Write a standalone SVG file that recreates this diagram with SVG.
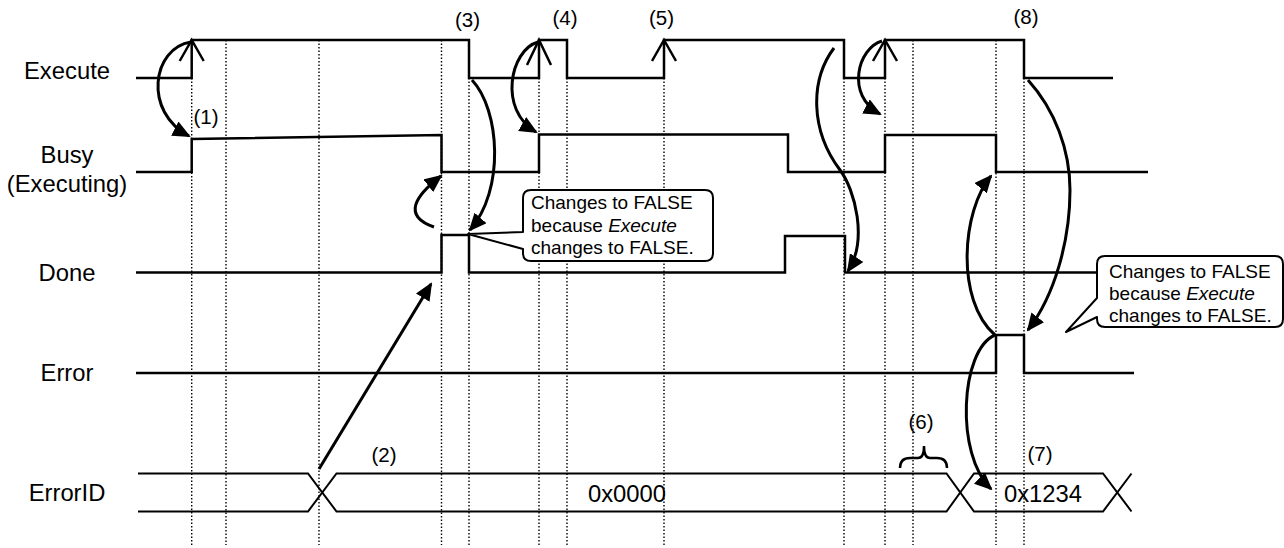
<svg xmlns="http://www.w3.org/2000/svg" width="1284" height="548" viewBox="0 0 1284 548">
<style>
  .lbl{font-family:"Liberation Sans",Arial,Helvetica,sans-serif;font-size:23.8px;fill:#000}
  .num{font-family:"Liberation Sans",Arial,Helvetica,sans-serif;font-size:20.5px;fill:#000;text-anchor:middle}
  .co{font-family:"Liberation Sans",Arial,Helvetica,sans-serif;font-size:19px;fill:#000}
  .sig{fill:none;stroke:#000;stroke-width:2.5;stroke-linejoin:miter;stroke-linecap:butt}
  .bus{fill:none;stroke:#000;stroke-width:2}
  .dot{fill:none;stroke:#000;stroke-width:1.4;stroke-dasharray:1.5 2}
  .arr{fill:none;stroke:#000;stroke-width:3;marker-end:url(#ah)}
  .chev{fill:none;stroke:#000;stroke-width:2.5}
  .callout{fill:#fff;stroke:#000;stroke-width:2;stroke-linejoin:round}
</style>
<defs>
  <marker id="ah" viewBox="0 0 18 16" refX="16" refY="8" markerWidth="18" markerHeight="16" markerUnits="userSpaceOnUse" orient="auto">
    <path d="M0,0 L18,8 L0,16 Z" fill="#000"/>
  </marker>
</defs>
<rect width="1284" height="548" fill="#fff"/>

<g id="guides">
  <path class="dot" d="M191.7 78V545M226 40V545M319 40V545M441.5 40V545M469 78V545M539 78V545M567 78V545M664 78V545M844 78V545M885 78V545M913 40V545M996 40V545M1024 78V545"/>
</g>

<g id="labels">
  <text class="lbl" x="67" y="79" text-anchor="middle">Execute</text>
  <text class="lbl" x="67" y="163" text-anchor="middle">Busy</text>
  <text class="lbl" x="67" y="192" text-anchor="middle">(Executing)</text>
  <text class="lbl" x="67" y="281" text-anchor="middle">Done</text>
  <text class="lbl" x="67" y="381" text-anchor="middle">Error</text>
  <text class="lbl" x="67" y="501" text-anchor="middle">ErrorID</text>
</g>

<g id="sig-execute">
  <path class="sig" d="M136 78H191.7V40H469V78H539V40H567V78H664V40H844V78H885V40H1024V78H1113"/>
  <polyline class="chev" points="179.7,61 191.7,40 203.7,61"/>
  <polyline class="chev" points="527,65 539,40 551,65"/>
  <polyline class="chev" points="652,61 664,40 676,61"/>
  <polyline class="chev" points="873,61 885,40 897,61"/>
</g>

<g id="sig-busy">
  <path class="sig" d="M136 172H191.7V139L441.5 135V172H539V134.5H788V172H885V135H996V172H1148"/>
</g>

<g id="sig-done">
  <path class="sig" d="M136 272.5H441.5V235H469V272.5H785V236H845V272.5H1097"/>
</g>

<g id="sig-error">
  <path class="sig" d="M136 373H996V335H1024V373H1134"/>
</g>

<g id="sig-errorid">
  <path class="bus" d="M138 473.5H308L336.5 511.5H946.5L974 473.5H1103L1131.5 511.5"/>
  <path class="bus" d="M138 511.5H308L336.5 473.5H946.5L974 511.5H1103L1131.5 473.5"/>
  <text class="lbl" x="627" y="502" text-anchor="middle">0x0000</text>
  <text class="lbl" x="1043" y="501.5" text-anchor="middle">0x1234</text>
</g>

<g id="numbers">
  <text class="num" x="206" y="124">(1)</text>
  <text class="num" x="384" y="462">(2)</text>
  <text class="num" x="467.5" y="27">(3)</text>
  <text class="num" x="565" y="25">(4)</text>
  <text class="num" x="661.5" y="25">(5)</text>
  <text class="num" x="921" y="429">(6)</text>
  <text class="num" x="1040" y="461">(7)</text>
  <text class="num" x="1026" y="24">(8)</text>
  <path fill="none" stroke="#000" stroke-width="2.5" d="M900 468Q900 458 910 458H918Q924 458 924 446Q924 458 930 458H937Q947 458 947 468"/>
</g>

<g id="connectors">
  <path class="arr" d="M191 42C152 48 143 112 189 136"/>
  <path class="arr" d="M538 42C510 50 498 110 536 132"/>
  <path class="arr" d="M882 41C858 48 845 95 880 114"/>
  <path class="arr" d="M472 80C500 110 505 190 470 230"/>
  <path class="arr" d="M434 227C402 216 415 196 441 176"/>
  <path class="arr" d="M319 469L431 284"/>
  <path class="arr" d="M834 48C810 80 810 130 840 170C855 190 868 240 848 271"/>
  <path class="arr" d="M1028 80C1055 110 1070 150 1070 190C1070 240 1055 295 1028 330"/>
  <path class="arr" d="M995 335C955 300 962 210 991 176"/>
  <path class="arr" d="M995 335C960 350 955 455 991 489"/>
</g>

<g id="callout1">
  <path class="callout" d="M531 190H705Q713 190 713 198V253Q713 261 705 261H531Q523 261 523 253V249L468 234L523 232V198Q523 190 531 190Z"/>
  <text class="co" x="531" y="209">Changes to FALSE</text>
  <text class="co" x="531" y="232">because <tspan font-style="italic">Execute</tspan></text>
  <text class="co" x="531" y="254">changes to FALSE.</text>
</g>

<g id="callout2">
  <path class="callout" d="M1105 256H1275Q1283 256 1283 264V319Q1283 327 1275 327H1105Q1097 327 1097 319V317L1066 332L1097 298V264Q1097 256 1105 256Z"/>
  <text class="co" x="1109" y="278">Changes to FALSE</text>
  <text class="co" x="1109" y="300">because <tspan font-style="italic">Execute</tspan></text>
  <text class="co" x="1109" y="322">changes to FALSE.</text>
</g>
</svg>
